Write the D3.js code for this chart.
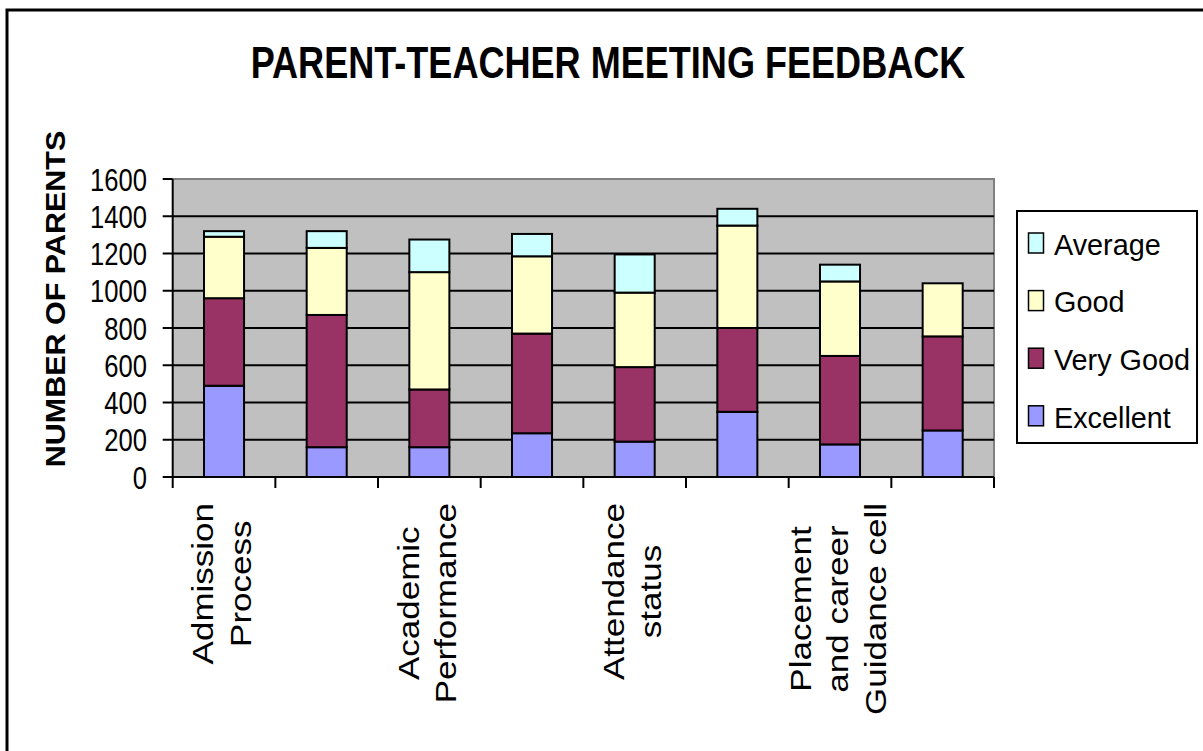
<!DOCTYPE html>
<html>
<head>
<meta charset="utf-8">
<title>Parent-Teacher Meeting Feedback</title>
<script src="https://cdn.jsdelivr.net/npm/d3@7"></script>
<style>
    html, body { margin: 0; padding: 0; background: #ffffff; }
    svg { display: block; }
    text { font-family: "Liberation Sans", Arial, sans-serif; fill: #000000; }
</style>
</head>
<body>
<div id="chart"></div>
<script>
// Category labels, one array of lines per bar (every other label is hidden in the original)
var categoryLines = [
    ["Admission", "Process"],
    [],
    ["Academic", "Performance"],
    [],
    ["Attendance", "status"],
    [],
    ["Placement", "and career", "Guidance cell"],
    []
];

// Series values, stacked from the bottom up
var excellent = [490, 160, 160, 235, 190, 350, 175, 250];
var veryGood  = [470, 710, 310, 535, 400, 450, 475, 505];
var good      = [330, 360, 630, 415, 400, 550, 400, 285];
var average   = [30, 90, 175, 120, 205, 90, 90, 0];

var seriesNames = ["Excellent", "Very Good", "Good", "Average"];
var seriesColors = ["#9999FF", "#993366", "#FFFFCC", "#CCFFFF"];
var yTicks = [0, 200, 400, 600, 800, 1000, 1200, 1400, 1600];

var width = 1203;
var height = 751;

// The plot area
var plot = { left: 172.7, right: 994, top: 179, bottom: 477 };

var svg = d3.select("#chart").append("svg")
    .attr("width", width)
    .attr("height", height);

// Outer frame (runs off the bottom and right of the picture)
svg.append("rect")
    .attr("x", 7)
    .attr("y", 10)
    .attr("width", width + 10)
    .attr("height", height + 10)
    .style("fill", "none")
    .style("stroke", "#000000")
    .style("stroke-width", 3);

// Build the table the stack layout needs
var table = categoryLines.map(function (d, i) {
    return { index: i, Excellent: excellent[i], "Very Good": veryGood[i], Good: good[i], Average: average[i] };
});
var stacked = d3.stack().keys(seriesNames)(table);

var x = d3.scaleBand()
    .domain(d3.range(categoryLines.length))
    .range([plot.left, plot.right])
    .paddingInner(0.61)
    .paddingOuter(0.305);

var y = d3.scaleLinear()
    .domain([0, 1600])
    .range([plot.bottom, plot.top]);

// Grey plot background
svg.append("rect")
    .attr("x", plot.left)
    .attr("y", plot.top)
    .attr("width", plot.right - plot.left)
    .attr("height", plot.bottom - plot.top)
    .style("fill", "#C0C0C0");

// Top and right edges of the plot area
svg.append("path")
    .attr("d", "M" + plot.left + "," + plot.top + "H" + plot.right + "V" + plot.bottom)
    .style("fill", "none")
    .style("stroke", "#808080")
    .style("stroke-width", 2);

// Gridlines
svg.append("g")
    .selectAll("line")
    .data(yTicks.filter(function (t) { return t > 0 && t < 1600; }))
    .enter()
    .append("line")
    .attr("x1", plot.left)
    .attr("x2", plot.right)
    .attr("y1", function (d) { return y(d); })
    .attr("y2", function (d) { return y(d); })
    .style("stroke", "#000000")
    .style("stroke-width", 2);

// Stacked bars
svg.append("g")
    .selectAll("g")
    .data(stacked)
    .enter()
    .append("g")
    .style("fill", function (d, i) { return seriesColors[i]; })
    .selectAll("rect")
    .data(function (d) { return d.filter(function (p) { return p[1] > p[0]; }); })
    .enter()
    .append("rect")
    .attr("x", function (d) { return x(d.data.index); })
    .attr("y", function (d) { return y(d[1]); })
    .attr("width", x.bandwidth())
    .attr("height", function (d) { return y(d[0]) - y(d[1]); })
    .style("stroke", "#000000")
    .style("stroke-width", 2);

// Y axis line and ticks
svg.append("line")
    .attr("x1", plot.left)
    .attr("x2", plot.left)
    .attr("y1", plot.top)
    .attr("y2", plot.bottom)
    .style("stroke", "#000000")
    .style("stroke-width", 2);

svg.append("g")
    .selectAll("line")
    .data(yTicks)
    .enter()
    .append("line")
    .attr("x1", plot.left - 10)
    .attr("x2", plot.left)
    .attr("y1", function (d) { return y(d); })
    .attr("y2", function (d) { return y(d); })
    .style("stroke", "#000000")
    .style("stroke-width", 2);

// Tick labels, squeezed sideways like the original rendering
svg.append("g")
    .selectAll("text")
    .data(yTicks)
    .enter()
    .append("text")
    .attr("transform", function (d) { return "translate(147," + y(d) + ") scale(0.8,1)"; })
    .attr("dy", "0.36em")
    .attr("text-anchor", "end")
    .style("font-size", "32px")
    .text(function (d) { return d; });

// X axis line and category ticks
svg.append("line")
    .attr("x1", plot.left)
    .attr("x2", plot.right)
    .attr("y1", plot.bottom)
    .attr("y2", plot.bottom)
    .style("stroke", "#000000")
    .style("stroke-width", 2);

var step = x.step();
svg.append("g")
    .selectAll("line")
    .data(d3.range(categoryLines.length + 1))
    .enter()
    .append("line")
    .attr("x1", function (i) { return plot.left + i * step; })
    .attr("x2", function (i) { return plot.left + i * step; })
    .attr("y1", plot.bottom)
    .attr("y2", plot.bottom + 11)
    .style("stroke", "#000000")
    .style("stroke-width", 2);

// Rotated category labels, lines centred on each other
var lineGap = 37.5;
categoryLines.forEach(function (lines, i) {
    if (lines.length == 0) return;
    var cx = x(i) + x.bandwidth() / 2 - 2;
    var g = svg.append("g");
    var texts = g.selectAll("text")
        .data(lines)
        .enter()
        .append("text")
        .attr("text-anchor", "middle")
        .style("font-size", "35px")
        .text(function (d) { return d; });

    // Longest line decides where the block starts below the axis
    var maxLen = 0;
    texts.each(function () {
        maxLen = Math.max(maxLen, this.getComputedTextLength());
    });
    var cy = 503 + maxLen / 2;
    var firstBase = cx - (lines.length - 1) * lineGap / 2 + 10;
    texts.attr("transform", function (d, j) {
        return "translate(" + (firstBase + j * lineGap) + "," + cy + ") scale(0.86,1) rotate(-90)";
    });
});

// Chart title
svg.append("text")
    .attr("transform", "translate(608,78) scale(0.82,1)")
    .attr("text-anchor", "middle")
    .style("font-size", "44px")
    .style("font-weight", "bold")
    .text("PARENT-TEACHER MEETING FEEDBACK");

// Y axis title
svg.append("text")
    .attr("transform", "translate(65,299) scale(0.92,1) rotate(-90)")
    .attr("text-anchor", "middle")
    .style("font-size", "30.5px")
    .style("font-weight", "bold")
    .text("NUMBER OF PARENTS");

// Legend, listed top series first
var legend = svg.append("g");
legend.append("rect")
    .attr("x", 1017)
    .attr("y", 211)
    .attr("width", 180)
    .attr("height", 232)
    .style("fill", "#ffffff")
    .style("stroke", "#000000")
    .style("stroke-width", 2);

var legendOrder = seriesNames.slice().reverse();
var items = legend.selectAll(".legendItem")
    .data(legendOrder)
    .enter()
    .append("g")
    .attr("class", "legendItem")
    .attr("transform", function (d, i) { return "translate(0," + (244 + i * 57.6) + ")"; });

items.append("rect")
    .attr("x", 1028.5)
    .attr("y", -11)
    .attr("width", 15)
    .attr("height", 20)
    .style("fill", function (d) { return seriesColors[seriesNames.indexOf(d)]; })
    .style("stroke", "#000000")
    .style("stroke-width", 1.5);

items.append("text")
    .attr("transform", "translate(1054,0) scale(0.96,1)")
    .attr("dy", "0.36em")
    .style("font-size", "30px")
    .text(function (d) { return d; });
</script>
</body>
</html>
